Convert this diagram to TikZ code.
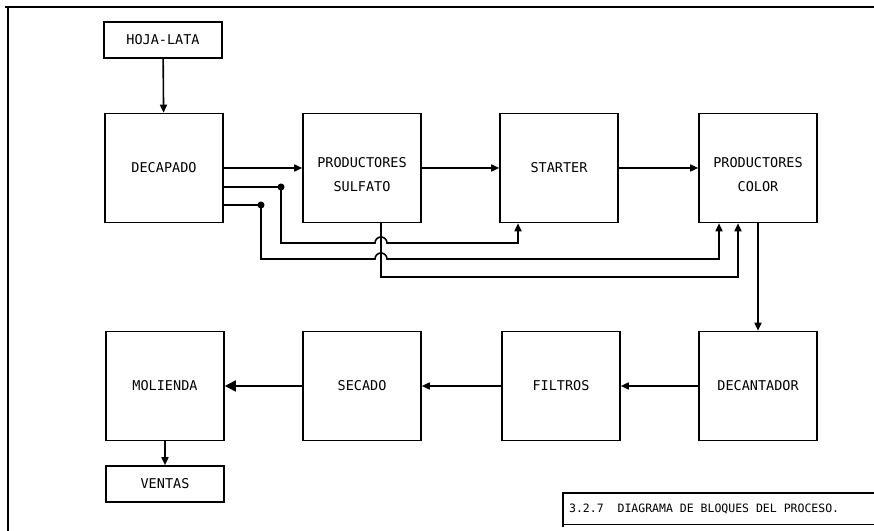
\documentclass[tikz,border=0pt]{standalone}
\usepackage{fontspec}
\setmonofont{DejaVu Sans Mono}
\usetikzlibrary{arrows.meta}
\begin{document}
\begin{tikzpicture}[x=1pt,y=1pt,line width=1.6pt,
	blk/.style={draw,line width=1.6pt,minimum width=118pt,minimum height=109pt,align=center,
		font=\ttfamily\fontsize{13.5}{24}\selectfont},
	lowblk/.style={blk,minimum height=36pt},
	arr/.style={-{Triangle[length=8pt,width=7pt]}},
	bigarr/.style={-{Triangle[length=11pt,width=11pt]}},
	dot/.style={circle,fill,inner sep=0pt,minimum size=7pt}]
	\useasboundingbox (0,0) rectangle (874,530);
	% frame of the sheet
	\draw (5,523) -- (880,523);
	\draw (8,523) -- (8,-5);
	
	% upper row
	\node[lowblk] (hoja) at (163,490) {HOJA-LATA};
	\node[blk] (dec) at (164,362) {DECAPADO};
	\node[blk] (sul) at (362,362) {\rule{0pt}{24pt}PRODUCTORES\\SULFATO};
	\node[blk] (sta) at (559,362) {STARTER};
	\node[blk] (col) at (758,362) {\rule{0pt}{24pt}PRODUCTORES\\COLOR};
	
	% lower row
	\node[blk] (dea) at (758,144) {DECANTADOR};
	\node[blk] (fil) at (561,144) {FILTROS};
	\node[blk] (sec) at (362,144) {SECADO};
	\node[blk] (mol) at (165,144) {MOLIENDA};
	\node[lowblk] (ven) at (165,46) {VENTAS};
	
	\draw[arr] (hoja) -- (dec);
	\draw[arr] (dec) -- (sul);
	\draw[arr] (sul) -- (sta);
	\draw[arr] (sta) -- (col);
	\draw[arr] (col) -- (dea);
	\draw[arr] (dea) -- (fil);
	\draw[arr] (fil) -- (sec);
	\draw[bigarr] (sec) -- (mol);
	\draw[arr] (mol) -- (ven);
	
	% return lines
	\coordinate (j1) at (281,343);
	\coordinate (j2) at (261,325);
	\coordinate (hop1) at (381,287);
	\coordinate (hop2) at (381,271);
	\coordinate (e1) at (518,287);
	\coordinate (e2) at (719,271);
	\coordinate (s3) at (381,253);
	\coordinate (e3) at (738,253);
	
	\draw[arr] (dec.east |- j1) -- (j1) |- ([xshift=-6pt]hop1)
		arc[start angle=180,end angle=0,radius=6pt] -- (e1) -- (e1 |- sta.south);
	\draw[arr] (dec.east |- j2) -- (j2) |- ([xshift=-6pt]hop2)
		arc[start angle=180,end angle=0,radius=6pt] -- (e2) -- (e2 |- col.south);
	\draw[arr] (s3 |- sul.south) -- (s3) -- (e3) -- (e3 |- col.south);
	\node[dot] at (j1) {};
	\node[dot] at (j2) {};
	
	% caption
	\draw (880,37) -- (563,37) -- (563,3);
	\draw[line width=.8pt] (563,6) -- (880,6);
	\node[anchor=west,font=\ttfamily\fontsize{11.5}{13}\selectfont] (cap) at (565,21)
		{3.2.7\ \ DIAGRAMA DE BLOQUES DEL PROCESO.};
\end{tikzpicture}
\end{document}
